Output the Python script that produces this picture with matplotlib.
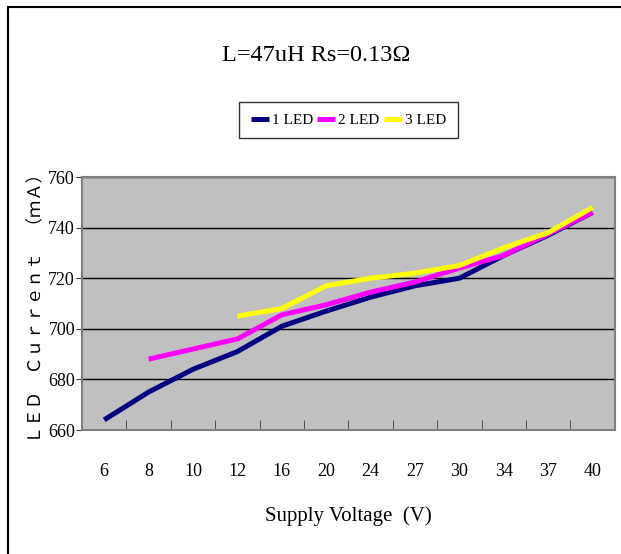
import numpy as np
import matplotlib.pyplot as plt
from matplotlib.patches import Rectangle

plt.rcParams['font.family'] = ['Liberation Serif', 'DejaVu Serif']

# data
voltages = ['6', '8', '10', '12', '16', '20', '24', '27', '30', '34', '37', '40']
led1 = [664, 675, 684, 691, 701, 707, 712.5, 717, 720, 729, 737, 746]
led2 = [np.nan, 688, 692, 696, 705.5, 709.5, 714.5, 718.5, 724, 729, 737.5, 746]
led3 = [np.nan, np.nan, np.nan, 705, 708, 717, 720, 722, 725, 732, 738, 748]

series = [led1, led2, led3]
labels = ['1 LED', '2 LED', '3 LED']
colors = ['#000080', '#FF00FF', '#FFFF00']

fig = plt.figure(figsize=(6.21, 5.54), dpi=100)
ax = fig.add_axes([0.132, 0.2238, 0.858, 0.4567])

# outer border of the chart area
fig.patches.append(Rectangle((8 / 621, -0.1), 1.2, (554 - 7) / 554 + 0.1,
                             transform=fig.transFigure, fill=False,
                             edgecolor='black', linewidth=1.5))

x = np.arange(len(voltages))
for y, label, color in zip(series, labels, colors):
    ax.plot(x, y, color=color, linewidth=3.6, label=label, solid_capstyle='butt')

ax.set_facecolor('#C0C0C0')
ax.set_xlim(-0.5, len(voltages) - 0.5)
ax.set_ylim(660, 760)
ax.set_yticks(np.arange(660, 761, 20))
ax.set_xticks(x)
ax.set_xticklabels(voltages, fontsize=13)
ax.set_xticks(np.arange(0.5, len(voltages) - 0.5, 1), minor=True)
ax.tick_params(axis='x', which='major', length=0, pad=24)
ax.tick_params(axis='x', which='minor', direction='in', length=7, color='#404040')
ax.tick_params(axis='y', length=4, color='#404040', labelsize=13, pad=1)
ax.grid(axis='y', color='black', linewidth=1)
for s in ax.spines.values():
    s.set_color('#808080')
    s.set_linewidth(1.5)

ax.set_xlabel('Supply Voltage  (V)', fontsize=15, labelpad=19)
ax.set_ylabel('ＬＥＤ　Ｃｕｒｒｅｎｔ　（ｍＡ）', fontsize=12.5,
              family=['Noto Sans CJK JP', 'DejaVu Sans'], labelpad=2)

fig.text(0.509, 0.9, 'L=47uH Rs=0.13Ω', ha='center', va='center', fontsize=17.5)

leg = ax.legend(loc='center', bbox_to_anchor=(0.5, 1.225), ncol=3, frameon=True,
                fancybox=False, edgecolor='black', fontsize=11,
                handlelength=1.2, handletextpad=0.2, columnspacing=0.25,
                borderpad=0.75, borderaxespad=0)
leg.get_frame().set_linewidth(1)

plt.savefig('out.png', dpi=100)
